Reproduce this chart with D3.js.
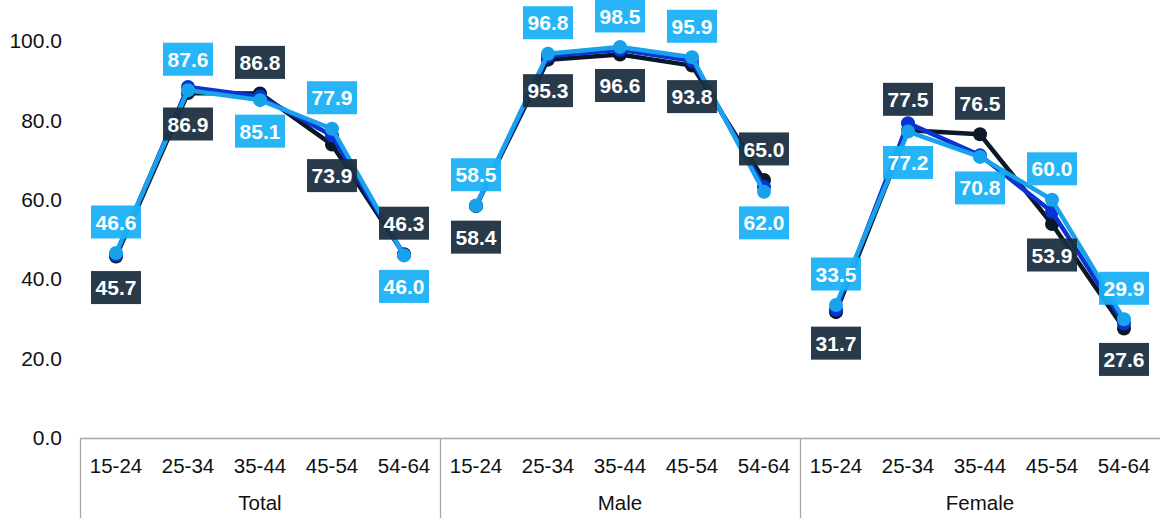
<!DOCTYPE html>
<html><head><meta charset="utf-8">
<script src="https://cdn.jsdelivr.net/npm/d3@7"></script>
<style>
body{margin:0;background:#fff}
text{font-family:"Liberation Sans",Arial,sans-serif}
</style>
</head><body>
<svg id="chart" width="1160" height="518"></svg>
<script>
// Participation rates by sex and age band
const groups = ["Total", "Male", "Female"];
const ages = ["15-24", "25-34", "35-44", "45-54", "54-64"];
const yTicks = [0, 20, 40, 60, 80, 100];

// Values in order: Total (5 ages), Male (5 ages), Female (5 ages)
const seriesDark  = [45.7, 86.9, 86.8, 73.9, 46.3, 58.4, 95.3, 96.6, 93.8, 65.0, 31.7, 77.5, 76.5, 53.9, 27.6];
const seriesMid   = [46.1, 88.4, 86.0, 76.2, 46.1, 58.5, 96.2, 97.8, 95.0, 63.2, 32.3, 79.3, 71.2, 57.0, 28.9];
const seriesLight = [46.6, 87.6, 85.1, 77.9, 46.0, 58.5, 96.8, 98.5, 95.9, 62.0, 33.5, 77.2, 70.8, 60.0, 29.9];

// Which side of its point each value label sits on (1 = above, -1 = below)
const darkLabelSide  = [-1, -1, 1, -1, 1, -1, -1, -1, -1, 1, -1, 1, 1, -1, -1];
const lightLabelSide = [1, 1, -1, 1, -1, 1, 1, 1, 1, -1, 1, -1, -1, 1, 1];

const W = 1160, H = 518;
const plot = {left: 80, right: 1160, top: 41, bottom: 438};

const svg = d3.select("#chart");

const y = d3.scaleLinear().domain([0, 100]).range([plot.bottom, plot.top]);
const xGroup = d3.scaleBand().domain(groups).range([plot.left, plot.right]).padding(0);
const xAge = d3.scalePoint().domain(ages).range([0, xGroup.bandwidth()]).padding(0.5);

const rows = [];
groups.forEach((g, gi) => ages.forEach((a, ai) => rows.push({g, a, i: gi * ages.length + ai})));
const xPos = d => xGroup(d.g) + xAge(d.a);

// Y axis labels
const yAxis = d3.axisLeft(y).tickValues(yTicks).tickFormat(d3.format(".1f")).tickSize(0).tickPadding(0);
const yg = svg.append("g").attr("transform", `translate(${plot.left - 18},0)`).call(yAxis);
yg.select(".domain").remove();
yg.selectAll("text").attr("font-size", 21).attr("fill", "#111");

// Category axis: baseline, group dividers, labels
svg.append("line").attr("x1", plot.left).attr("x2", plot.right)
  .attr("y1", plot.bottom + 0.5).attr("y2", plot.bottom + 0.5)
  .attr("stroke", "#a6a6a6").attr("stroke-width", 1.3);
svg.selectAll("line.divider").data(groups).join("line").attr("class", "divider")
  .attr("x1", d => Math.round(xGroup(d)) + 0.5).attr("x2", d => Math.round(xGroup(d)) + 0.5)
  .attr("y1", plot.bottom).attr("y2", H)
  .attr("stroke", "#a6a6a6").attr("stroke-width", 1.3);
svg.selectAll("text.age").data(rows).join("text").attr("class", "age")
  .attr("x", xPos).attr("y", 473).attr("text-anchor", "middle")
  .attr("font-size", 20.5).attr("fill", "#111").text(d => d.a);
svg.selectAll("text.group").data(groups).join("text").attr("class", "group")
  .attr("x", d => xGroup(d) + xGroup.bandwidth() / 2).attr("y", 510)
  .attr("text-anchor", "middle").attr("font-size", 20.5).attr("fill", "#111").text(d => d);

const series = [
  {values: seriesDark, color: "#0b1827"},
  {values: seriesMid, color: "#0a33d2"},
  {values: seriesLight, color: "#19a2ec"}
];

const line = d3.line().x(xPos).y(d => d.v);

series.forEach(s => {
  const g = svg.append("g");
  groups.forEach(grp => {
    const pts = rows.filter(r => r.g === grp).map(r => ({...r, v: y(s.values[r.i])}));
    g.append("path").datum(pts).attr("d", line)
      .attr("fill", "none").attr("stroke", s.color).attr("stroke-width", 4.5)
      .attr("stroke-linejoin", "round");
  });
  g.selectAll("circle").data(rows).join("circle")
    .attr("cx", xPos).attr("cy", r => y(s.values[r.i])).attr("r", 7)
    .attr("fill", s.color);
});

// Value labels
function drawLabels(values, sides, boxColor) {
  const g = svg.append("g");
  const lg = g.selectAll("g").data(rows).join("g")
    .attr("transform", r => `translate(${xPos(r)},${y(values[r.i]) - sides[r.i] * 31})`);
  lg.append("rect").attr("x", -25).attr("y", -16.5).attr("width", 50).attr("height", 33)
    .attr("fill", boxColor).attr("fill-opacity", 0.94);
  lg.append("text").attr("text-anchor", "middle").attr("dy", "0.36em")
    .attr("font-size", 21).attr("font-weight", "bold").attr("fill", "#fff")
    .text(r => values[r.i].toFixed(1));
}
drawLabels(seriesDark, darkLabelSide, "#1c2e3f");
drawLabels(seriesLight, lightLabelSide, "#19b0f6");
</script>
</body></html>
